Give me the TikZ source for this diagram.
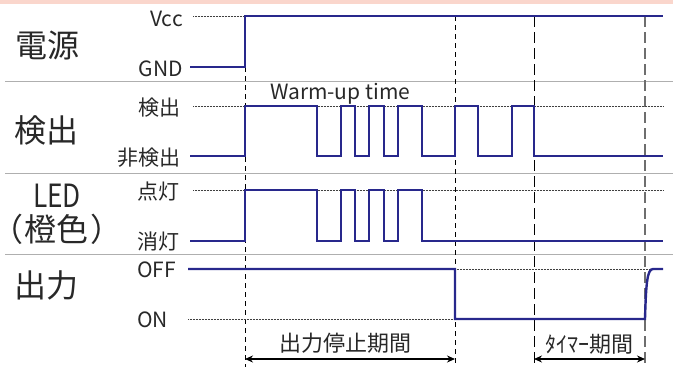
\documentclass[tikz,border=0pt]{standalone}
\usepackage{fontspec}
\setmainfont{Noto Sans CJK JP}
\newfontfamily\paltfont[RawFeature=+palt]{Noto Sans CJK JP}
\usetikzlibrary{arrows.meta}
\definecolor{signal}{RGB}{40, 40, 140}
\definecolor{band}{RGB}{250, 214, 204}
\definecolor{sepgray}{RGB}{175, 175, 175}
\definecolor{markgray}{RGB}{110, 110, 110}
\definecolor{ink}{RGB}{40, 40, 40}

\begin{document}
\begin{tikzpicture}[x=1pt, y=-1pt,
  title/.style  = {font=\fontsize{32}{34}\selectfont, color=ink, inner sep=0pt},
  lvl/.style    = {font=\fontsize{21}{23}\selectfont, color=ink, inner sep=0pt},
  span/.style   = {font=\fontsize{22}{24}\selectfont, color=ink, inner sep=0pt},
  sig/.style    = {line width=2.4pt, color=signal},
  ref/.style    = {densely dotted, line width=0.5pt, color=black!75},
  sep/.style    = {line width=1pt, color=sepgray},
  shortmark/.style = {line width=0.9pt, dash pattern=on 5pt off 4pt},
  longmark/.style  = {line width=0.9pt, dash pattern=on 11pt off 5pt},
  graymark/.style  = {line width=1.8pt, color=markgray, dash pattern=on 11pt off 5pt},
  period/.style = {{Stealth[length=8pt,width=7pt]}-{Stealth[length=8pt,width=7pt]}, line width=1.4pt}
]
  \useasboundingbox (0,0) rectangle (673,367);

  % ---- Top band and row separators ----
  \fill[band] (0,0) rectangle (673,3.5);
  \draw[sep] (5,81)  -- (673,81);
  \draw[sep] (5,173) -- (673,173);
  \draw[sep] (5,254) -- (673,254);

  % ---- Row titles ----
  \node[title] at (48, 45)  (power)  {電源};
  \node[title] at (47, 130) (detect) {検出};
  \node[title] at (57, 196) (led)    {\scalebox{0.82}[1]{LED}};
  \node[title] at (57, 229) (orange) {\paltfont（\kern3pt 橙色\kern3pt）};
  \node[title] at (47, 285) (output) {出力};

  % ---- Level labels ----
  \node[lvl, anchor=base east] at (183, 26)  (vcc)   {Vcc};
  \node[lvl, anchor=base east] at (183, 76)  (gnd)   {GND};
  \node[lvl, anchor=base east] at (181, 115) (det)   {検出};
  \node[lvl, anchor=base east] at (181, 165) (nodet) {非検出};
  \node[lvl, anchor=base west] at (137, 199) (on)    {点灯};
  \node[lvl, anchor=base west] at (137, 249) (off)   {消灯};
  \node[lvl, anchor=base west] at (137, 277) (hi)    {OFF};
  \node[lvl, anchor=base west] at (137, 327) (lo)    {ON};
  \node[lvl, anchor=base west] at (270, 99)  (warm)  {Warm-up time};

  % ---- Time marks ----
  \coordinate (t0) at (245, 67);
  \coordinate (t1) at (455, 16);
  \coordinate (t2) at (534, 16);
  \coordinate (t3) at (645, 16);
  \coordinate (b0) at (245, 367);
  \coordinate (b1) at (455, 367);
  \coordinate (b2) at (534, 367);
  \coordinate (b3) at (645, 367);
  \draw[shortmark] (t0) -- (b0);
  \draw[shortmark] (t1) -- (b1);
  \draw[longmark]  (t2) -- (b2);
  \draw[graymark]  (t3) -- (b3);

  % ---- Reference levels ----
  \draw[ref] (193,16)  -- (245,16);
  \draw[ref] (193,106) -- (663,106);
  \draw[ref] (193,190) -- (663,190);
  \draw[ref] (188,319) -- (455,319);
  \draw[ref] (455,269) -- (663,269);

  % ---- Signals ----
  \draw[sig] (190,67) -- (245,67) -- (245,16) -- (663,16);
  \draw[sig] (190,156) -- (245,156) |- (317,106) |- (341,156) |- (355,106)
             |- (369,156) |- (384,106) |- (398,156) |- (422,106) |- (455,156)
             |- (478,106) |- (512,156) |- (534,106) |- (663,156);
  \draw[sig] (190,241) -- (245,241) |- (317,190) |- (341,241) |- (355,190)
             |- (369,241) |- (384,190) |- (398,241) |- (422,190) |- (663,241);
  \draw[sig] (188,269) -- (455,269) -- (455,319) -- (645,319)
             .. controls (646,285) and (647,269) .. (653,269) -- (663,269);

  % ---- Periods ----
  \coordinate (a0) at (245, 359);
  \coordinate (a1) at (455, 359);
  \coordinate (a2) at (534, 359);
  \coordinate (a3) at (645, 359);
  \draw[period] (a0) -- (a1);
  \draw[period] (a2) -- (a3);
  \node[span] at (345, 343) (stop)  {出力停止期間};
  \node[span] at (589, 344) (timer) {ﾀｲﾏｰ期間};
\end{tikzpicture}
\end{document}
